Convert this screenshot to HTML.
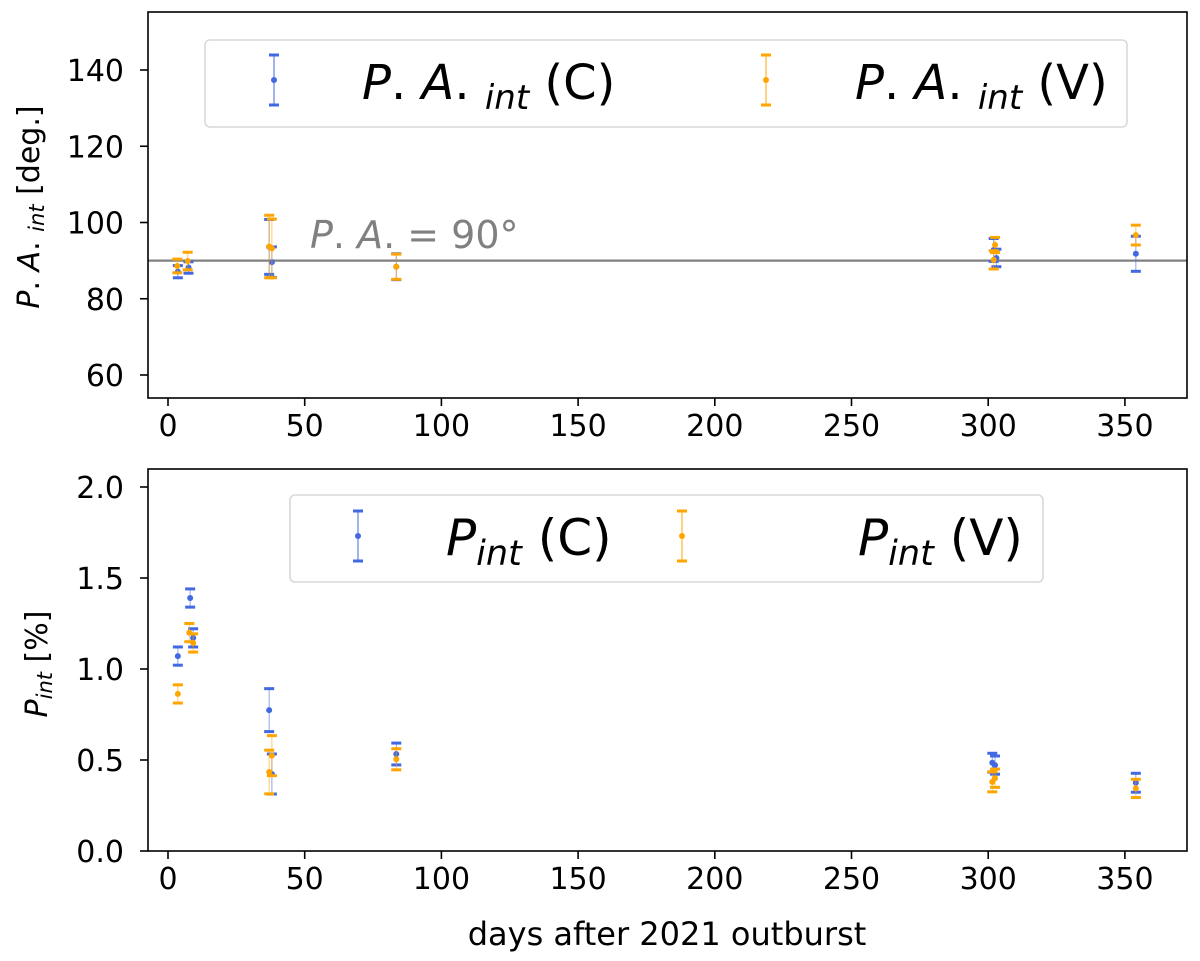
<!DOCTYPE html>
<html><head><meta charset="utf-8">
<style>
body{margin:0;background:#fff;}
svg{display:block;font-family:"DejaVu Sans","Liberation Sans",sans-serif;}
</style></head>
<body>
<svg id="chart" width="1200" height="961" xmlns="http://www.w3.org/2000/svg"></svg>
<script>
// ---- Data ----
const paDaysC = [3.6, 7.5, 37, 38, 83.5, 302, 303, 354];
const paValsC = [87.1, 88.2, 93.6, 89.6, 88.4, 92.8, 90.7, 91.8];
const paErrsC = [1.6, 1.5, 7.2, 4.0, 3.4, 3.0, 2.3, 4.6];
const paDaysV = [3.4, 7.2, 37, 38, 83.5, 302.5, 302, 354];
const paValsV = [88.6, 89.9, 93.7, 93.2, 88.4, 94.1, 90.2, 96.7];
const paErrsV = [1.8, 2.3, 8.2, 7.7, 3.3, 2.0, 2.4, 2.6];
const pDaysC = [3.6, 8.1, 9.2, 37, 38, 83.5, 301.5, 302.5, 354];
const pValsC = [1.071, 1.39, 1.171, 0.774, 0.423, 0.533, 0.485, 0.472, 0.375];
const pErrsC = [0.05, 0.05, 0.05, 0.118, 0.11, 0.06, 0.052, 0.05, 0.052];
const pDaysV = [3.6, 7.8, 9.2, 37, 38, 83.5, 301.5, 302.5, 354];
const pValsV = [0.863, 1.20, 1.143, 0.434, 0.524, 0.504, 0.38, 0.40, 0.344];
const pErrsV = [0.05, 0.05, 0.05, 0.12, 0.11, 0.058, 0.055, 0.05, 0.05];
const xTicks = [0, 50, 100, 150, 200, 250, 300, 350];
const paTicks = [60, 80, 100, 120, 140];
const pTicks = [0.0, 0.5, 1.0, 1.5, 2.0];

const svg = document.getElementById('chart');
const NS = 'http://www.w3.org/2000/svg';
function mk(tag, attrs, parent){const e=document.createElementNS(NS,tag);for(const k in attrs)e.setAttribute(k,attrs[k]);(parent||svg).appendChild(e);return e;}
const BLUE='#4169e1', ORANGE='#ffa500';
const xS = d => 168 + d*2.734;
const yPA = v => 375 - (v-60)*3.8125;
const yP = v => 851 - v*182;

function panel(top,bottom,yS,yTicks,fmt,name){
  const g=mk('g',{});
  
  
  xTicks.forEach(t=>{
    const x=xS(t);
    mk('line',{x1:x,x2:x,y1:bottom,y2:bottom+8,stroke:'#000','stroke-width':1.6},g);
    const tx=mk('text',{x:x,y:bottom+38,'text-anchor':'middle','font-size':30},g);
    tx.textContent=t;
    
    
  });
  yTicks.forEach(t=>{
    const y=yS(t);
    mk('line',{x1:148,x2:140,y1:y,y2:y,stroke:'#000','stroke-width':1.6},g);
    const tx=mk('text',{x:124,y:y+11,'text-anchor':'end','font-size':30},g);
    tx.textContent=fmt(t);
    
    
  });
  return g;
}
function errs(days,vals,errs,yS,color,name){
  const g=mk('g',{});
  
  
  days.forEach((d,i)=>{
    const x=xS(d), y=yS(vals[i]), y1=yS(vals[i]+errs[i]), y2=yS(vals[i]-errs[i]);
    mk('line',{x1:x,x2:x,y1:y1,y2:y2,stroke:color,'stroke-width':1,'stroke-opacity':0.6},g);
    mk('line',{x1:x-5,x2:x+5,y1:y1,y2:y1,stroke:color,'stroke-width':3},g);
    mk('line',{x1:x-5,x2:x+5,y1:y2,y2:y2,stroke:color,'stroke-width':3},g);
    const c=mk('circle',{cx:x,cy:y,r:3,fill:color},g);
    
    
  });
}
function legendIcon(x,y,color){
  mk('line',{x1:x,x2:x,y1:y-25,y2:y+25,stroke:color,'stroke-width':1});
  mk('line',{x1:x-5,x2:x+5,y1:y-25,y2:y-25,stroke:color,'stroke-width':3});
  mk('line',{x1:x-5,x2:x+5,y1:y+25,y2:y+25,stroke:color,'stroke-width':3});
  mk('circle',{cx:x,cy:y,r:3,fill:color});
}

// Top panel
panel(12,398,yPA,paTicks,t=>t,'top-panel');
const hl=mk('line',{x1:148,x2:1187,y1:yPA(90),y2:yPA(90),stroke:'#808080','stroke-width':2.2});


const rl=mk('text',{x:310,y:248,'font-size':38,fill:'#808080'});
rl.innerHTML='<tspan font-style="italic">P</tspan>. <tspan font-style="italic">A</tspan>. = 90°';


errs(paDaysC,paValsC,paErrsC,yPA,BLUE,'series-pa-c');
errs(paDaysV,paValsV,paErrsV,yPA,ORANGE,'series-pa-v');
mk('rect',{x:148,y:12,width:1039,height:386,fill:'none',stroke:'#000','stroke-width':1.6});
const yl1=mk('text',{x:0,y:0,'font-size':30,'text-anchor':'middle',transform:'translate(39,207) rotate(-90)'});
yl1.innerHTML='<tspan font-style="italic">P</tspan>. <tspan font-style="italic">A</tspan>. <tspan font-style="italic" font-size="21" dy="5">int</tspan><tspan dy="-5"> [deg.]</tspan>';



// top legend
const lg1=mk('rect',{x:205,y:40,width:922,height:87,rx:5,fill:'#fff','fill-opacity':0.8,stroke:'#d9d9d9','stroke-width':1.6});


legendIcon(274,80,BLUE);
legendIcon(766,80,ORANGE);
[[362,'C','legend-entry-pa-c'],[855,'V','legend-entry-pa-v']].forEach(([x,l,n])=>{
  const t=mk('text',{x:x,y:99,'font-size':48});
  t.innerHTML='<tspan font-style="italic">P</tspan>. <tspan font-style="italic">A</tspan>. <tspan font-style="italic" font-size="34" dy="10">int</tspan><tspan dy="-10"> ('+l+')</tspan>';
  
  
});

// Bottom panel
panel(469,851,yP,pTicks,t=>t.toFixed(1),'bottom-panel');
errs(pDaysC,pValsC,pErrsC,yP,BLUE,'series-p-c');
errs(pDaysV,pValsV,pErrsV,yP,ORANGE,'series-p-v');
mk('rect',{x:148,y:469,width:1039,height:382,fill:'none',stroke:'#000','stroke-width':1.6});
const yl2=mk('text',{x:0,y:0,'font-size':30,'text-anchor':'middle',transform:'translate(47,664) rotate(-90)'});
yl2.innerHTML='<tspan font-style="italic">P</tspan><tspan font-style="italic" font-size="21" dy="5">int</tspan><tspan dy="-5"> [%]</tspan>';


const xl=mk('text',{x:667,y:945,'font-size':32,'text-anchor':'middle'});
xl.textContent='days after 2021 outburst';



const lg2=mk('rect',{x:290,y:495,width:753,height:87,rx:5,fill:'#fff','fill-opacity':0.8,stroke:'#d9d9d9','stroke-width':1.6});


legendIcon(358,536,BLUE);
legendIcon(682,536,ORANGE);
[[446,'C','legend-entry-p-c'],[858,'V','legend-entry-p-v']].forEach(([x,l,n])=>{
  const t=mk('text',{x:x,y:555,'font-size':50});
  t.innerHTML='<tspan font-style="italic">P</tspan><tspan font-style="italic" font-size="35" dy="10">int</tspan><tspan dy="-10"> ('+l+')</tspan>';
  
  
});
</script>
</body></html>
